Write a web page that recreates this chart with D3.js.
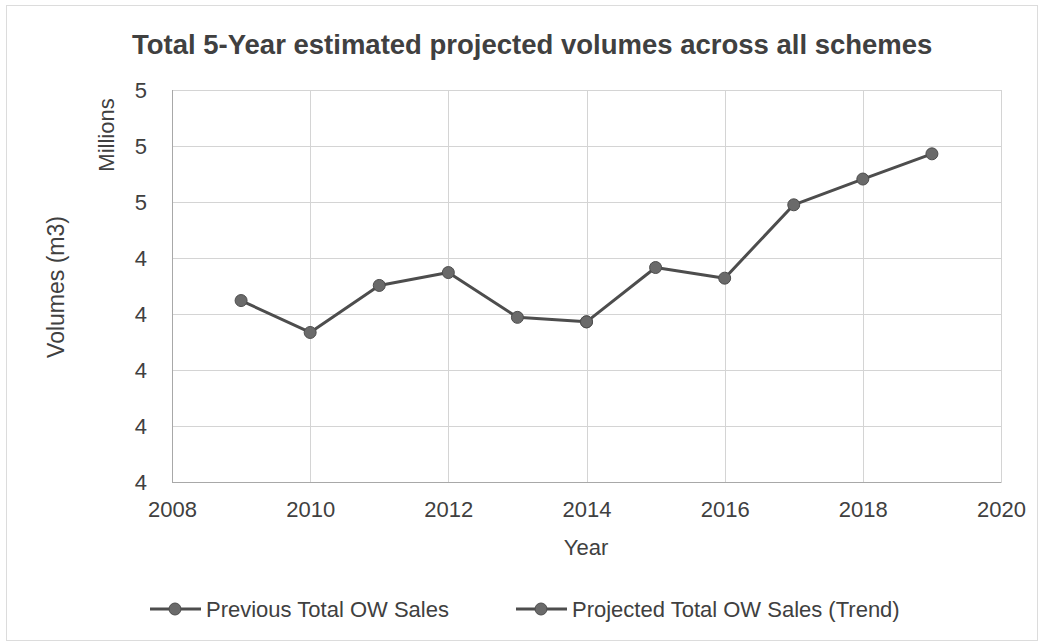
<!DOCTYPE html>
<html>
<head>
<meta charset="utf-8">
<script src="https://cdn.jsdelivr.net/npm/d3@7"></script>
<style>
  html, body { margin: 0; padding: 0; background: #fff; }
  svg { display: block; font-family: "Liberation Sans", Arial, sans-serif; }
</style>
</head>
<body>
<svg id="chart" width="1044" height="643"></svg>
<script>
// Yearly totals (millions of m3)
const previousYears = [2009, 2010, 2011, 2012, 2013, 2014];
const previousValues = [4.324, 4.267, 4.351, 4.374, 4.294, 4.286];
const projectedYears = [2014, 2015, 2016, 2017, 2018, 2019];
const projectedValues = [4.286, 4.383, 4.364, 4.495, 4.541, 4.586];

const xTicks = [2008, 2010, 2012, 2014, 2016, 2018, 2020];
const xGrid = [2008, 2010, 2012, 2014, 2016, 2018, 2020];
const yTicks = [4.0, 4.1, 4.2, 4.3, 4.4, 4.5, 4.6, 4.7];
const seriesNames = ["Previous Total OW Sales", "Projected Total OW Sales (Trend)"];

const svg = d3.select("#chart");
const W = 1044, H = 643;
const plot = { left: 172, right: 1001, top: 90, bottom: 482 };

const textColor = "#404040";
const lineColor = "#4d4d4d";
const markerFill = "#6a6a6a";
const markerStroke = "#4d4d4d";
const gridColor = "#d4d4d4";

// outer chart frame
svg.append("rect")
  .attr("x", 6.5).attr("y", 5.5)
  .attr("width", W - 13).attr("height", H - 8)
  .attr("fill", "none").attr("stroke", "#dcdcdc").attr("stroke-width", 1);

const x = d3.scaleLinear().domain([2008, 2020]).range([plot.left, plot.right]);
const y = d3.scaleLinear().domain([4.0, 4.7]).range([plot.bottom, plot.top]);

// gridlines
svg.append("g").selectAll("line.h").data(yTicks).join("line")
  .attr("x1", plot.left).attr("x2", plot.right)
  .attr("y1", d => Math.round(y(d)) + 0.5).attr("y2", d => Math.round(y(d)) + 0.5)
  .attr("stroke", gridColor).attr("stroke-width", 1);
svg.append("g").selectAll("line.v").data(xGrid).join("line")
  .attr("y1", plot.top).attr("y2", plot.bottom)
  .attr("x1", d => Math.round(x(d)) + 0.5).attr("x2", d => Math.round(x(d)) + 0.5)
  .attr("stroke", gridColor).attr("stroke-width", 1);

// axis lines
svg.append("line")
  .attr("x1", plot.left + 0.5).attr("x2", plot.left + 0.5)
  .attr("y1", plot.top).attr("y2", plot.bottom + 0.5)
  .attr("stroke", "#a8a8a8");
svg.append("line")
  .attr("x1", plot.left).attr("x2", plot.right + 0.5)
  .attr("y1", plot.bottom + 0.5).attr("y2", plot.bottom + 0.5)
  .attr("stroke", "#a8a8a8");

// y axis (labels rounded to whole millions)
const yAxis = d3.axisLeft(y).tickValues(yTicks).tickSize(0).tickPadding(25)
  .tickFormat(d => d3.format(".0f")(d + 1e-9));
const gy = svg.append("g").attr("transform", `translate(${plot.left},0)`).call(yAxis);
gy.select(".domain").remove();
gy.selectAll("text").attr("fill", textColor).style("font-size", "22px");

// x axis
const xAxis = d3.axisBottom(x).tickValues(xTicks).tickSize(0).tickPadding(19)
  .tickFormat(d3.format("d"));
const gx = svg.append("g").attr("transform", `translate(0,${plot.bottom})`).call(xAxis);
gx.select(".domain").remove();
gx.selectAll("text").attr("fill", textColor).style("font-size", "22px");

// title
svg.append("text")
  .attr("x", 132).attr("y", 54)
  .attr("fill", textColor)
  .style("font-size", "27.5px").style("font-weight", "bold")
  .text("Total 5-Year estimated projected volumes across all schemes");

// axis titles
svg.append("text")
  .attr("transform", "translate(114,135) rotate(-90)")
  .attr("text-anchor", "middle").attr("fill", textColor)
  .style("font-size", "22px").text("Millions");
svg.append("text")
  .attr("transform", "translate(64,287) rotate(-90)")
  .attr("text-anchor", "middle").attr("fill", textColor)
  .style("font-size", "23px").text("Volumes (m3)");
svg.append("text")
  .attr("x", 586).attr("y", 555)
  .attr("text-anchor", "middle").attr("fill", textColor)
  .style("font-size", "22px").text("Year");

// series
const line = d3.line().x(d => x(d[0])).y(d => y(d[1]));
const series = [
  d3.zip(previousYears, previousValues),
  d3.zip(projectedYears, projectedValues)
];
series.forEach(pts => {
  svg.append("path").datum(pts)
    .attr("d", line).attr("fill", "none")
    .attr("stroke", lineColor).attr("stroke-width", 3)
    .attr("stroke-linejoin", "round");
});
series.forEach(pts => {
  svg.append("g").selectAll("circle").data(pts).join("circle")
    .attr("cx", d => x(d[0])).attr("cy", d => y(d[1]))
    .attr("r", 6).attr("fill", markerFill)
    .attr("stroke", markerStroke).attr("stroke-width", 1);
});

// legend
const legendItems = [
  { name: seriesNames[0], x0: 150 },
  { name: seriesNames[1], x0: 516 }
];
const ly = 609;
legendItems.forEach(it => {
  const g = svg.append("g");
  g.append("line").attr("x1", it.x0).attr("x2", it.x0 + 51)
    .attr("y1", ly).attr("y2", ly)
    .attr("stroke", lineColor).attr("stroke-width", 3);
  g.append("circle").attr("cx", it.x0 + 25).attr("cy", ly).attr("r", 6)
    .attr("fill", markerFill).attr("stroke", markerStroke);
  g.append("text").attr("x", it.x0 + 56).attr("y", ly + 8)
    .attr("fill", textColor).style("font-size", "22px").text(it.name);
});
</script>
</body>
</html>
